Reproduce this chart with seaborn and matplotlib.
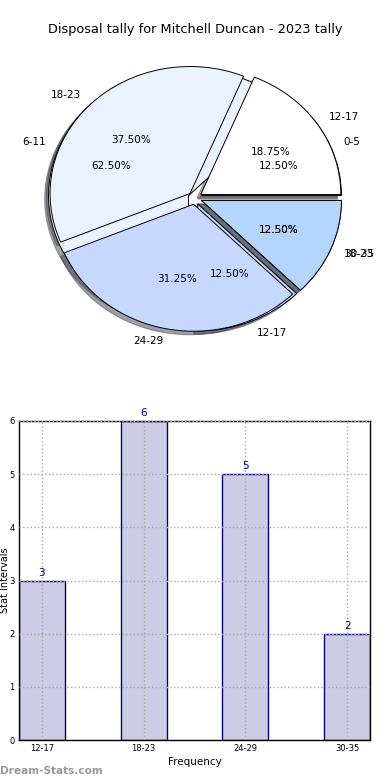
import matplotlib
matplotlib.use("Agg")
from matplotlib import pyplot as plt
import seaborn as sns
import pandas as pd

# bar / top pie data
intervals = ['12-17', '18-23', '24-29', '30-35']
tally = [3, 6, 5, 2]

# second (underlying) pie
intervals_b = ['0-5', '6-11', '12-17', '18-23']
tally_b = [2, 10, 2, 2]

pie_colors = ['#ffffff', '#eaf1ff', '#c6d8ff', '#b3d5ff']

df = pd.DataFrame({'Interval': intervals, 'Tally': tally})

W, H = 390, 780
fig = plt.figure(figsize=(W / 100, H / 100), dpi=100)

fig.text(0.5, 1 - 30 / H, 'Disposal tally for Mitchell Duncan - 2023 tally',
         ha='center', va='center', fontsize=9.3)

# pie axes: centre at (195, 198) px from top-left, radii 140 x 127 px
cx, cy, rx, ry = 195, 198, 140, 127
lim = 1.3
axp = fig.add_axes([(cx - lim * rx) / W, (H - cy - lim * ry) / H,
                    2 * lim * rx / W, 2 * lim * ry / H])

wp = {'edgecolor': 'black', 'linewidth': 0.7}
axp.pie(tally_b, labels=intervals_b, colors=pie_colors, autopct='%.2f%%',
        explode=[0.05] * 4, shadow=True, wedgeprops=wp,
        textprops={'fontsize': 7.5})
axp.pie(tally, labels=intervals, colors=pie_colors, autopct='%.2f%%',
        explode=[0.05] * 4, shadow=True, wedgeprops=wp,
        textprops={'fontsize': 7.5})
axp.set_aspect('auto')
axp.set_xlim(-lim, lim)
axp.set_ylim(-lim, lim)
axp.axis('off')

# bar chart
axb = fig.add_axes([19 / W, 40 / H, 351 / W, 319 / H])
sns.barplot(data=df, x='Interval', y='Tally', color='#ccccE5',
            edgecolor='#000080', linewidth=1, width=0.45, saturation=1, ax=axb)
axb.bar_label(axb.containers[0], padding=2, color='#000080', fontsize=7.5)
axb.set_xlim(-0.225, 3.225)
axb.set_ylim(0, 6)
axb.set_yticks(range(7))
axb.grid(True, linestyle=':', color='#aaaaaa', linewidth=1)
axb.set_axisbelow(False)
axb.tick_params(length=0, labelsize=6, pad=3)
axb.set_xlabel('Frequency', fontsize=7.5, labelpad=3)
axb.set_ylabel('Stat Intervals', fontsize=7, labelpad=2)
axb.yaxis.set_label_coords(-0.026, 0.5)
for s in axb.spines.values():
    s.set_color('black')
    s.set_linewidth(1)

fig.text(0.0, 1 - 771 / H, 'Dream-Stats.com', ha='left', va='center',
         fontsize=7.6, fontweight='bold', color='#999999')

fig.savefig('out.png', dpi=100)
